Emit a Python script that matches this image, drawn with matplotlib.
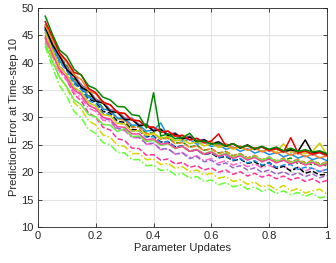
import numpy as np
import matplotlib
matplotlib.use("Agg")
import matplotlib.pyplot as plt

plt.rcParams['font.family'] = ['Liberation Sans', 'DejaVu Sans']

# parameter updates (fraction of training)
updates = np.linspace(0.025, 1.0, 40)

green_solid = [48.5,45.2,42.3,41.2,38.8,37.7,35.8,35.2,33.7,33.2,32.0,31.9,30.5,30.3,28.1,34.5,26.6,27.0,26.1,26.3,
               27.1,25.6,25.7,25.1,25.3,24.8,25.2,24.5,24.9,24.3,24.7,24.2,24.6,23.9,24.4,23.8,24.1,23.7,23.9,23.4]
red_solid = [47.5,44.8,41.8,40.3,38.2,37.8,35.3,34.5,32.8,32.3,30.9,30.7,29.5,29.4,28.3,28.2,27.3,27.5,26.6,26.7,
             25.9,26.2,25.4,25.7,27.0,24.8,25.2,24.5,24.8,24.3,24.6,24.0,24.3,23.7,26.3,23.5,23.9,23.3,23.6,23.1]
black_solid = [46.5,43.3,41.2,38.7,37.5,35.5,34.8,33.0,32.6,31.1,30.9,29.6,29.6,28.5,28.6,27.5,27.8,26.7,27.0,26.1,
               26.4,25.6,25.9,25.2,25.5,24.7,25.2,24.4,25.0,24.2,24.7,24.0,24.4,23.8,24.1,23.8,25.9,23.5,23.8,23.3]
yellow_solid = [45.5,42.2,39.3,37.8,35.5,34.6,32.7,32.1,30.5,30.3,28.9,28.8,27.5,27.6,26.7,27.1,26.2,26.5,25.7,26.0,
                25.2,25.6,24.8,25.2,24.5,24.9,24.2,24.6,24.0,24.3,23.8,24.2,23.6,25.2,23.6,23.9,23.4,23.8,25.3,23.2]
blue_solid = [46.0,43.2,40.3,38.8,36.5,35.6,33.7,33.1,31.5,31.3,29.9,29.8,28.6,28.6,27.5,27.7,29.0,26.5,26.7,25.7,
              26.0,25.1,25.5,24.7,25.0,24.2,24.6,23.8,24.3,23.5,23.9,23.2,23.6,22.8,23.3,22.6,23.0,22.3,22.7,22.1]
orange_solid = [46.8,44.2,41.6,40.1,37.8,36.9,34.9,34.3,32.7,32.3,30.9,30.8,29.5,29.4,28.3,28.3,27.3,27.5,26.5,26.8,
                25.9,26.1,25.3,25.6,24.8,25.2,24.4,24.8,24.0,24.5,23.7,24.1,23.4,23.8,23.1,23.6,22.8,23.3,22.6,23.0]
purple_solid = [46.2,43.3,41.4,39.0,37.9,35.9,35.1,33.3,32.9,31.4,31.2,29.9,29.9,28.7,28.8,27.7,27.9,26.9,27.2,26.2,
                26.6,25.7,26.0,25.2,25.6,24.8,25.2,24.4,24.9,24.1,24.6,23.8,24.3,23.6,24.0,23.3,23.8,23.1,23.6,22.9]
pink_solid = [44.5,41.7,38.8,37.3,35.0,34.1,32.2,31.6,30.0,29.7,28.3,28.2,27.0,27.0,25.9,26.1,25.1,25.3,24.4,24.7,
              23.8,24.1,23.3,23.7,22.9,23.3,22.5,23.0,22.2,22.7,21.9,22.4,21.7,22.2,21.5,22.0,21.3,21.8,21.1,21.5]
lime_solid = [43.5,40.2,37.3,35.6,33.2,32.3,30.5,30.1,28.7,28.6,27.4,28.0,26.5,26.6,25.6,25.8,24.9,25.2,24.3,24.7,
              23.8,24.2,23.4,23.8,23.0,23.5,22.7,23.2,22.4,22.9,22.2,22.7,22.0,22.4,21.7,22.2,21.5,22.0,21.3,21.7]
black_dashed = [46.0,43.2,40.3,38.8,36.4,35.3,33.4,32.8,31.1,30.8,29.3,29.1,27.8,27.7,26.5,26.6,25.5,25.6,24.6,24.8,
                23.8,24.1,23.2,23.5,22.6,22.9,22.1,22.4,21.6,21.9,21.1,21.8,20.7,21.1,20.2,20.9,19.8,20.2,19.5,19.6]
pink_dashed = [45.0,41.7,38.6,36.8,34.2,33.0,30.8,30.0,28.2,27.7,26.1,25.8,24.4,24.3,23.1,23.2,22.2,22.4,21.5,21.8,
               20.9,21.2,20.4,20.8,20.0,20.4,19.6,20.1,19.3,19.8,19.1,19.5,18.8,19.3,18.6,19.0,18.3,18.8,18.1,18.5]
yellow_dashdot = [44.5,40.7,37.3,35.3,32.7,31.5,29.4,28.6,26.8,26.4,24.9,24.7,23.4,23.4,22.3,22.4,21.4,21.6,20.7,21.0,
                  20.1,20.4,19.5,19.8,18.9,19.2,18.3,18.6,17.8,18.2,17.3,17.6,16.8,17.6,16.6,17.0,16.2,16.6,16.9,16.0]
lime_dashdot = [43.0,39.2,35.8,33.8,31.1,29.9,27.8,27.1,25.4,25.0,23.6,23.5,22.3,22.3,21.2,21.3,20.3,20.5,19.5,19.8,
                18.9,19.2,18.3,18.6,17.7,18.1,17.3,17.7,16.9,17.3,16.5,16.9,16.1,16.6,15.9,16.3,15.6,16.1,15.3,15.6]
blue_dashed = [46.0,43.2,40.1,38.5,36.1,35.1,33.1,32.5,30.8,30.5,29.0,28.8,27.5,27.5,26.4,26.5,25.4,25.6,24.6,24.8,
               23.9,24.1,23.2,23.6,22.7,23.0,22.2,22.5,21.7,22.1,21.3,21.7,20.9,21.3,21.4,20.5,20.9,20.7,20.1,20.5]
green_dashed = [47.0,44.2,41.1,39.5,37.0,36.0,34.0,33.4,31.7,31.3,29.8,29.6,28.3,28.3,27.1,27.2,26.1,26.3,25.3,25.5,
                24.6,24.9,24.0,24.3,23.5,23.8,23.0,23.4,22.6,23.0,22.2,22.6,21.8,22.2,22.6,21.5,21.9,21.3,21.7,21.1]
purple_dashed = [45.5,42.5,39.5,37.8,35.3,34.3,32.3,31.6,29.9,29.5,28.0,27.8,26.5,26.4,25.2,25.3,24.2,24.3,23.3,23.5,
                 22.5,22.8,21.9,22.2,21.3,21.7,20.8,21.2,20.4,20.8,20.0,20.4,19.6,20.1,19.4,19.9,19.2,19.7,19.0,19.4]
orange_dashed = [46.5,43.7,40.8,39.2,36.8,35.8,33.8,33.2,31.5,31.2,29.7,29.5,28.2,28.2,27.0,27.1,26.0,26.2,25.2,25.4,
                 24.5,24.8,23.9,24.3,23.4,23.8,23.0,23.4,22.6,23.1,22.3,22.8,22.1,22.6,21.9,22.4,21.7,22.2,21.5,21.9]
pink_dashdot = [44.0,41.2,38.3,36.8,34.5,33.6,31.7,31.1,29.5,29.2,27.7,27.6,26.3,26.3,25.1,25.2,24.1,24.3,23.3,23.6,
                22.7,23.0,22.1,22.5,21.7,22.1,21.3,21.7,21.0,21.5,20.8,21.3,20.6,21.1,20.4,20.9,20.2,20.8,20.1,20.6]

dash = (0, (3.5, 1.5))
dashdot = (0, (5, 1.5, 1, 1.5))

# (values, colour, linestyle), drawn bottom to top
runs = [
    (lime_dashdot, '#66ff33', dashdot),
    (yellow_dashdot, '#d6d600', dashdot),
    (pink_dashed, '#ff3399', dash),
    (pink_dashdot, '#ff66cc', dashdot),
    (purple_dashed, '#9966cc', dash),
    (black_dashed, 'black', dash),
    (blue_dashed, '#1a8fe6', dash),
    (green_dashed, '#009900', dash),
    (orange_dashed, '#ff7f27', dash),
    (lime_solid, '#66ee44', '-'),
    (pink_solid, '#ff4499', '-'),
    (purple_solid, '#9966aa', '-'),
    (blue_solid, '#1a8fe6', '-'),
    (yellow_solid, '#cccc00', '-'),
    (black_solid, 'black', '-'),
    (orange_solid, '#ff7f27', '-'),
    (red_solid, '#e60000', '-'),
    (green_solid, '#008800', '-'),
]

fig = plt.figure(figsize=(3.36, 2.63), dpi=100)
ax = fig.add_axes([0.113, 0.137, 0.86, 0.833])

for vals, col, ls in runs:
    ax.plot(updates, vals, color=col, linestyle=ls, lw=1.1)

ax.set_xlim(0, 1)
ax.set_ylim(10, 50)
ax.set_xticks([0, 0.2, 0.4, 0.6, 0.8, 1])
ax.set_xticklabels(['0', '0.2', '0.4', '0.6', '0.8', '1'])
ax.set_yticks(range(10, 51, 5))
ax.grid(True, color='#e3e3e3', lw=0.8)
ax.set_axisbelow(True)
ax.tick_params(direction='in', length=3, width=0.6, top=True, right=True,
               labelsize=8, colors='#262626', pad=3)
for s in ax.spines.values():
    s.set_color('#262626')
    s.set_linewidth(0.6)
ax.set_xlabel('Parameter Updates', fontsize=8, color='#262626', labelpad=1)
ax.set_ylabel('Prediction Error at Time-step 10', fontsize=8, color='#262626', labelpad=2)

fig.savefig('out.png', dpi=100)
